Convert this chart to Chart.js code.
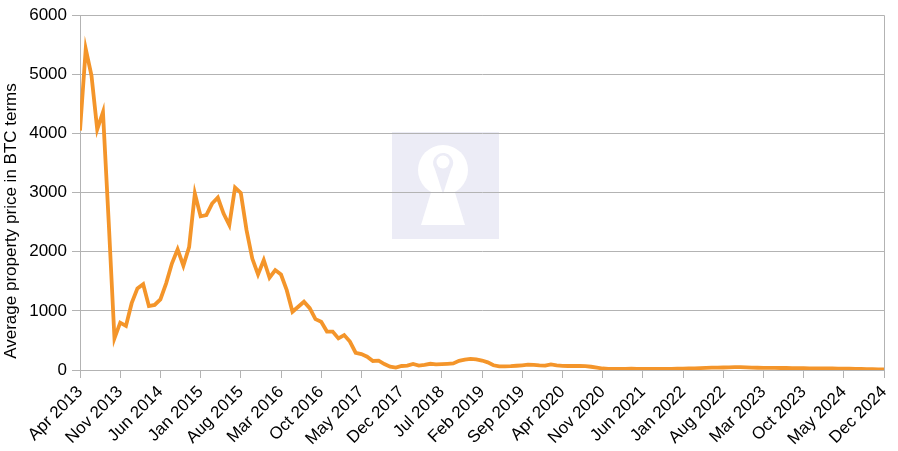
<!DOCTYPE html>
<html>
<head>
<meta charset="utf-8">
<script src="https://cdn.jsdelivr.net/npm/chart.js@4.4.1/dist/chart.umd.min.js"></script>
<style>
  html, body { margin: 0; padding: 0; background: #ffffff; }
  #wrap { width: 898px; height: 451px; position: relative; }
</style>
</head>
<body>
<div id="wrap"><canvas id="c"></canvas></div>
<script>
// Month categories, Apr 2013 .. Dec 2024
const monthNames = ['Jan','Feb','Mar','Apr','May','Jun','Jul','Aug','Sep','Oct','Nov','Dec'];
const categories = [];
for (let y = 2013; y <= 2024; y++) {
  for (let m = 0; m < 12; m++) {
    if (y === 2013 && m < 3) continue;
    categories.push(monthNames[m] + ' ' + y);
  }
}

// Tick labels shown every 7 months
const tickLabels = ['Apr 2013','Nov 2013','Jun 2014','Jan 2015','Aug 2015','Mar 2016','Oct 2016',
  'May 2017','Dec 2017','Jul 2018','Feb 2019','Sep 2019','Apr 2020','Nov 2020','Jun 2021',
  'Jan 2022','Aug 2022','Mar 2023','Oct 2023','May 2024','Dec 2024'];

// Average property price in BTC terms
const priceBTC = [
  4050, 5430, 4980, 4070, 4360, 2500, 535, 800, 745, 1130,
  1380, 1450, 1080, 1100, 1195, 1465, 1800, 2040, 1765, 2080,
  2985, 2600, 2620, 2815, 2915, 2645, 2450, 3085, 2995, 2365,
  1885, 1615, 1860, 1560, 1690, 1615, 1350, 985, 1070, 1155,
  1045, 860, 815, 650, 650, 535, 590, 480, 292, 270,
  225, 152, 157, 100, 55, 40, 68, 73, 101, 75,
  85, 105, 95, 100, 104, 110, 155, 175, 188, 180,
  160, 130, 80, 62, 62, 65, 72, 80, 90, 85,
  78, 75, 96, 80, 70, 68, 68, 70, 65, 55,
  40, 25, 20, 17, 18, 20, 23, 20, 18, 18,
  18, 18, 18, 20, 22, 24, 26, 28, 32, 36,
  40, 40, 42, 45, 48, 50, 44, 40, 38, 37,
  36, 35, 34, 34, 33, 32, 30, 29, 28, 27,
  26, 25, 24, 23, 22, 20, 18, 16, 14, 12,
  11
];

const yTicks = [0, 1000, 2000, 3000, 4000, 5000, 6000];
const yTitle = 'Average property price in BTC terms';

const points = priceBTC.map((v, i) => ({ x: i, y: v }));

const GRID = '#b3b3b3';
const FONT = 'Liberation Sans, Arial, sans-serif';
const TEXT = '#000000';

const watermark = {
  id: 'watermark',
  beforeDraw(chart) {
    const ctx = chart.ctx;
    ctx.save();
    ctx.fillStyle = '#ececf6';
    ctx.fillRect(392, 132, 107, 107);
    ctx.fillStyle = '#ffffff';
    ctx.beginPath();
    ctx.arc(443, 170, 25, 0, Math.PI * 2);
    ctx.fill();
    ctx.beginPath();
    ctx.moveTo(433, 186);
    ctx.lineTo(453, 186);
    ctx.lineTo(465, 225);
    ctx.lineTo(421, 225);
    ctx.closePath();
    ctx.fill();
    ctx.fillStyle = '#ececf6';
    ctx.beginPath();
    ctx.arc(443, 163, 10, Math.PI * 0.8, Math.PI * 2.2);
    ctx.lineTo(443, 194);
    ctx.closePath();
    ctx.fill();
    ctx.fillStyle = '#ffffff';
    ctx.beginPath();
    ctx.arc(443, 162, 6.5, 0, Math.PI * 2);
    ctx.fill();
    ctx.restore();
  }
};

const frame = {
  id: 'frame',
  afterDraw(chart) {
    const a = chart.chartArea;
    const ctx = chart.ctx;
    ctx.save();
    ctx.strokeStyle = GRID;
    ctx.lineWidth = 1;
    ctx.beginPath();
    ctx.moveTo(Math.round(a.left) + 0.5, Math.round(a.top) + 0.5);
    ctx.lineTo(Math.round(a.right) + 0.5, Math.round(a.top) + 0.5);
    ctx.lineTo(Math.round(a.right) + 0.5, Math.round(a.bottom) + 0.5);
    ctx.stroke();
    // y-axis title
    ctx.fillStyle = TEXT;
    ctx.font = '17px ' + FONT;
    ctx.textAlign = 'center';
    ctx.textBaseline = 'middle';
    ctx.translate(11, 221);
    ctx.rotate(-Math.PI / 2);
    ctx.fillText(yTitle, 0, 0);
    ctx.restore();
  }
};

new Chart(document.getElementById('c'), {
  type: 'line',
  data: {
    datasets: [{
      data: points,
      borderColor: '#f4952a',
      borderWidth: 3.8,
      pointRadius: 0,
      tension: 0,
      fill: false
    }]
  },
  options: {
    responsive: true,
    maintainAspectRatio: false,
    animation: false,
    devicePixelRatio: 1,
    layout: { padding: { top: 15, right: 14, left: 0, bottom: 0 } },
    plugins: { legend: { display: false }, tooltip: { enabled: false } },
    scales: {
      x: {
        type: 'linear',
        min: 0,
        max: categories.length - 1,
        afterFit(s) { s.height = 81; s.paddingRight = 0; s.paddingLeft = 0; },
        grid: { drawOnChartArea: false, color: GRID, tickLength: 8, tickColor: GRID },
        border: { color: GRID },
        ticks: {
          stepSize: 7,
          autoSkip: false,
          maxRotation: 45,
          minRotation: 45,
          padding: 4,
          color: TEXT,
          font: { family: FONT, size: 17 },
          callback: (v) => tickLabels[Math.round(v / 7)]
        }
      },
      y: {
        min: 0,
        max: 6000,
        afterFit(s) { s.width = 80; },
        afterBuildTicks(s) { s.ticks = yTicks.map(v => ({ value: v })); },
        grid: { color: GRID, tickLength: 8, tickColor: GRID },
        border: { color: GRID },
        ticks: {
          padding: 5,
          color: TEXT,
          font: { family: FONT, size: 17 },
          callback: (v) => String(v)
        }
      }
    }
  },
  plugins: [watermark, frame]
});
</script>
</body>
</html>
